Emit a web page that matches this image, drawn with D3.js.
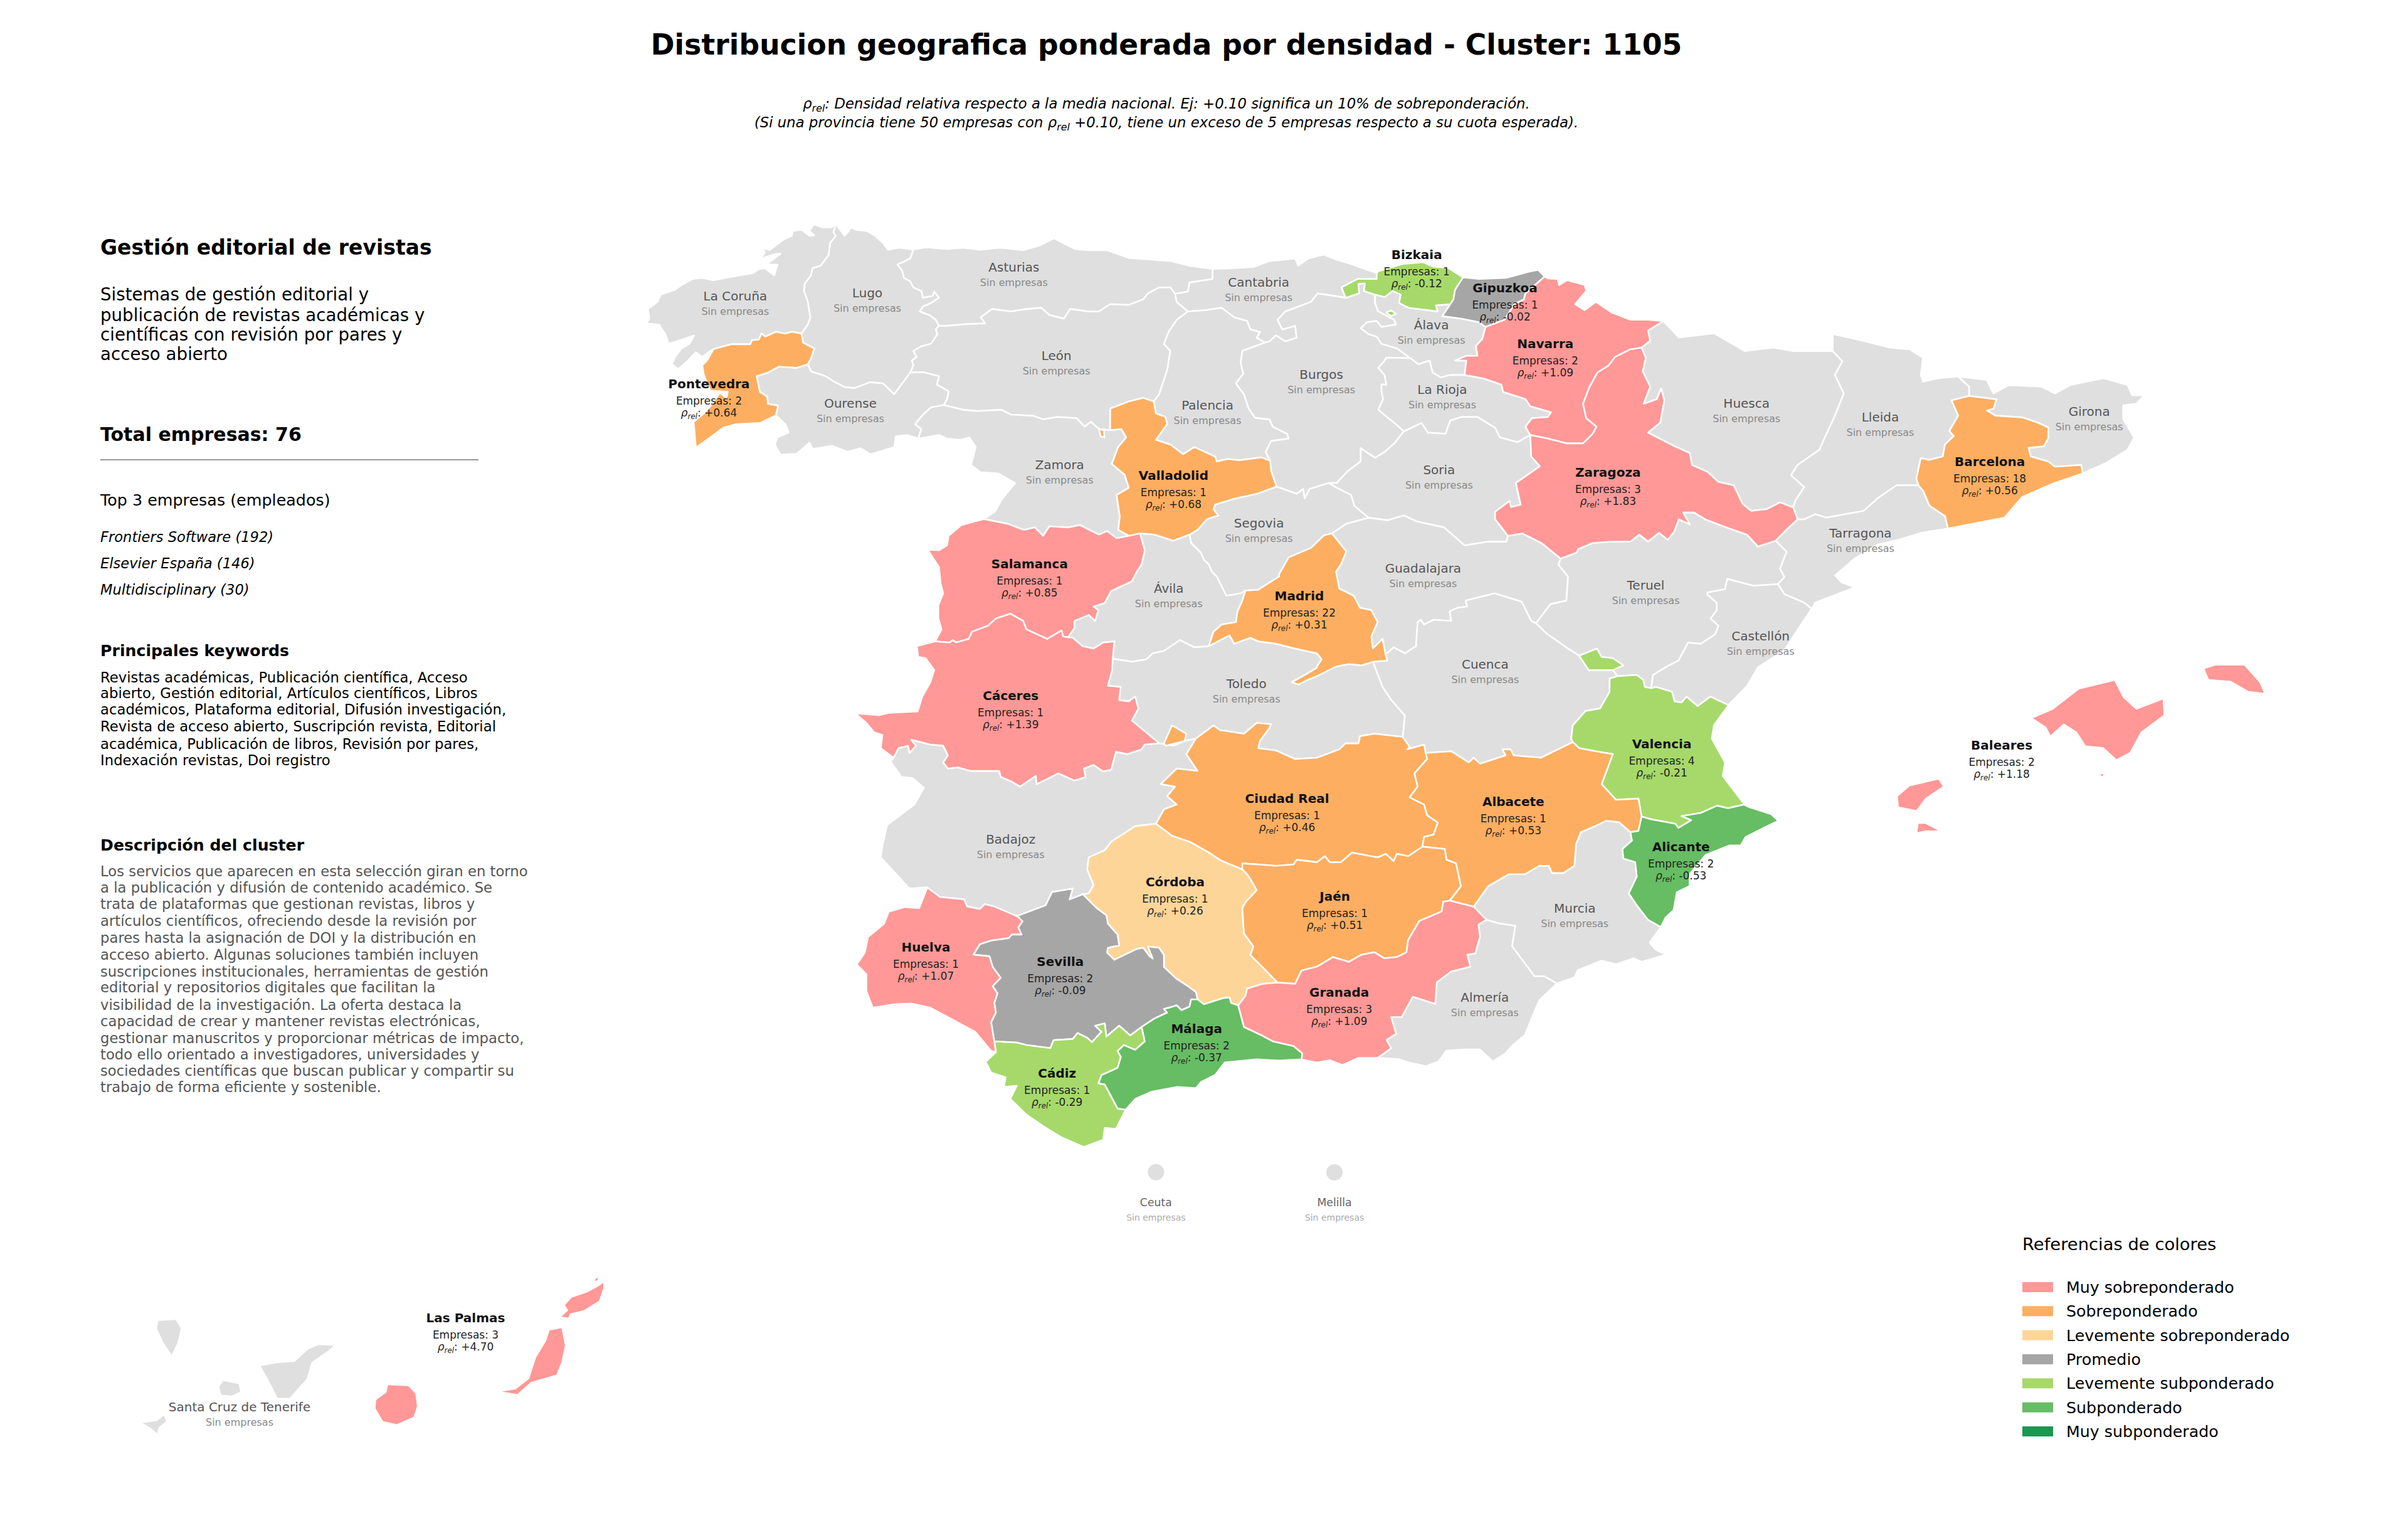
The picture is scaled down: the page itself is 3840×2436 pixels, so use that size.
<!DOCTYPE html>
<html><head><meta charset="utf-8">
<script src="https://cdn.jsdelivr.net/npm/d3@7"></script>
<style>html,body{margin:0;padding:0;background:#fff}svg{display:block}text{font-family:"DejaVu Sans",sans-serif}</style>
</head><body><svg id="c" width="3840" height="2436"></svg>
<script>
// ---------- chart values ----------
const provinceNames=["Pontevedra","Bizkaia","Gipuzkoa","Navarra","Valladolid","Zaragoza","Barcelona","Salamanca","Madrid","Cáceres","Valencia","Ciudad Real","Albacete","Alicante","Córdoba","Jaén","Huelva","Sevilla","Granada","Málaga","Cádiz","Baleares","Las Palmas"];
const empresasValues=[2,1,1,2,1,3,18,1,22,1,4,1,1,2,1,1,1,2,3,2,1,2,3];
const rhoValues=[0.64,-0.12,-0.02,1.09,0.68,1.83,0.56,0.85,0.31,1.39,-0.21,0.46,0.53,-0.53,0.26,0.51,1.07,-0.09,1.09,-0.37,-0.29,1.18,4.70];
const emptyProvinces=["La Coruña","Lugo","Asturias","León","Ourense","Zamora","Cantabria","Palencia","Burgos","Álava","La Rioja","Soria","Segovia","Guadalajara","Huesca","Lleida","Girona","Tarragona","Castellón","Teruel","Cuenca","Ávila","Toledo","Badajoz","Murcia","Almería","Santa Cruz de Tenerife","Ceuta","Melilla"];
const legendLabels=["Muy sobreponderado","Sobreponderado","Levemente sobreponderado","Promedio","Levemente subponderado","Subponderado","Muy subponderado"];
const legendColors=["#ff9896","#fdae61","#fed599","#a6a6a6","#a6d96a","#66bd63","#1a9850"];
const rhoThresholds=[-0.7,-0.3,-0.1,0.1,0.3,0.8];
const keywordLines=["Revistas académicas, Publicación científica, Acceso","abierto, Gestión editorial, Artículos científicos, Libros","académicos, Plataforma editorial, Difusión investigación,","Revista de acceso abierto, Suscripción revista, Editorial","académica, Publicación de libros, Revisión por pares,","Indexación revistas, Doi registro"];
const descriptionLines=["Los servicios que aparecen en esta selección giran en torno","a la publicación y difusión de contenido académico. Se","trata de plataformas que gestionan revistas, libros y","artículos científicos, ofreciendo desde la revisión por","pares hasta la asignación de DOI y la distribución en","acceso abierto. Algunas soluciones también incluyen","suscripciones institucionales, herramientas de gestión","editorial y repositorios digitales que facilitan la","visibilidad de la investigación. La oferta destaca la","capacidad de crear y mantener revistas electrónicas,","gestionar manuscritos y proporcionar métricas de impacto,","todo ello orientado a investigadores, universidades y","sociedades científicas que buscan publicar y compartir su","trabajo de forma eficiente y sostenible."];
const summaryLines=["Sistemas de gestión editorial y","publicación de revistas académicas y","científicas con revisión por pares y","acceso abierto"];
const topCompanies=["Frontiers Software (192)","Elsevier España (146)","Multidisciplinary (30)"];

// ---------- survey sheets: boundary traces are read on these map sheets ----------
const sheets={A:[1000,330,800,600,1568],B:[1800,330,800,600,1568],C:[2600,500,1100,850,1568],D:[1300,900,800,600,1568],E:[2100,900,800,600,1568],F:[1300,1400,800,600,1568],G:[2100,1300,800,600,1568],H:[150,2000,850,340,1012]};
const sheetScale=Object.fromEntries(Object.entries(sheets).map(([k,[x,y,w,h,dh]])=>[k,{x:d3.scaleLinear().domain([0,1568]).range([x,x+w]),y:d3.scaleLinear().domain([0,dh]).range([y,y+h])}]));
function trace(s){let f=null,out=[];s.trim().split(/\s+/).forEach(t=>{if(/^[A-H]$/.test(t))f=sheetScale[t];else{const [a,b]=t.split(",").map(Number);out.push([f.x(a),f.y(b)]);}});return out;}

// ---------- province border arcs ----------
const arcs={
lcCoast:"A 655,65 640,85 610,85 583,72 570,100 585,118 570,120 545,95 518,100 515,120 490,135 465,160 445,180 425,170 430,190 418,215 465,195 480,195 445,230 430,240 470,240 460,285 430,255 410,260 395,275 330,290 270,305 235,295 205,300 170,325 150,345 105,365 95,395 65,425 70,465 60,485 100,490 120,530 130,570 165,555 210,535 195,570 170,590 150,625 140,655 160,675 190,640 215,605 235,625 262,598",
lcPon:"A 270,592 325,572 385,572 390,555 412,552 420,527 432,540 465,520 495,527 515,520 545,527",
lcLug:"A 655,65 645,105 652,120 635,150 630,200 605,245 580,255 575,285 555,320 553,350 565,395 573,460 565,490 545,527",
lugCoast:"A 655,65 660,85 680,120 690,105 700,85 715,95 750,100 775,120 800,150 815,178 850,170 895,177",
lugAst:"A 895,177 885,215 845,240 860,265 865,295 885,310 895,335 920,350 925,378 955,370 960,352 975,378 950,400 925,415 915,435 945,450 965,470 975,495",
lugLeo:"A 975,495 965,510 970,530 950,570 920,580 895,600 905,625 890,640 895,660 885,690",
lugOur:"A 565,655 575,685 620,705 650,730 680,750 710,755 760,730 800,735 835,780 885,690",
ponLug:"A 545,527 550,565 585,590 575,630 565,655",
ponOur:"A 565,655 530,670 475,665 440,690 405,705 415,770 438,790 440,820 472,828 465,868",
ponSouth:"A 465,868 415,900 340,905 300,920 260,960 215,1003",
ponCoast:"A 215,1003 208,895 240,860 260,830 290,775 310,795 315,770 260,765 240,700 235,660 250,640 270,592",
ourSouth:"A 465,868 495,905 505,940 470,960 462,990 480,1032 530,1028 570,982 580,1008 640,995 690,1020 730,1005 760,1030 835,1000 840,955 875,950 910,965",
ourZam:"A 990,825 950,835 925,865 900,905 920,925 910,965",
ourLeo:"A 885,690 925,688 975,705 968,740 1005,768 1000,800 990,825",
zamWest:"A 910,965 975,950 1000,965 1040,970 1070,960 1090,1000 1075,1075 1105,1105 1160,1110 1213,1150 1170,1220 1150,1270 1115,1300",
zamSal:"A 1115,1300 1190,1320 1240,1345 1275,1335 1300,1370 1320,1330 1380,1335 1415,1325 1475,1365 1500,1350 1530,1380 1568,1370",
zamLeo:"A 990,825 1050,845 1095,850 1170,845 1200,865 1270,870 1300,885 1345,875 1405,880 1430,915 1450,895 1475,925 1510,930",
zamVal:"A 1510,930 1545,925 1560,960 1535,1000 1515,1070 1555,1115 1568,1170 1530,1200 1540,1290 1535,1345 1568,1370",
astCoast:"A 895,177 935,168 1000,175 1050,170 1105,178 1165,170 1240,180 1290,160 1335,130 1370,155 1400,175 1440,180 1500,180 B 0,212 60,218 130,225 190,245 262,258",
astLeo:"A 975,495 1000,495 1060,488 1120,485 1105,460 1140,425 1200,435 1250,425 1295,420 1320,450 1365,465 1385,425 1440,435 1475,435 1510,405 B 0,408 45,385 60,360 95,335 130,335 145,362",
astCan:"B 145,362 185,352 190,315 262,300 262,258",
leoCan:"B 145,362 150,395 185,435",
leoPal:"B 185,435 150,470 125,520 110,570 130,600 120,680 105,740 95,780 78,810",
leoVal:"A 1510,930 1510,840 B 0,810 45,795 78,810",
canCoast:"B 262,258 320,255 390,250 440,225 520,215 530,245 560,215 610,198 650,220 690,235 730,255 775,275",
canBiz:"B 775,275 775,300 715,300 665,335 678,378",
canBur:"B 678,378 590,360 570,395 490,435 465,470 480,510 520,495 525,545 490,560 460,535 440,560 425,565",
canPal:"B 185,435 240,430 290,420 330,460 370,475 380,510 410,520 400,545 425,565",
palBur:"B 425,565 355,600 350,650 358,695 335,735 360,780 375,840 395,878 440,885 450,915 495,945 500,965 445,975 428,1020 442,1058",
palVal:"B 78,810 85,860 115,875 120,905 85,970 130,990 170,1030 205,1000 270,1040 275,1060 310,1050 345,1055 415,1043 442,1058",
valBur:"B 442,1058 445,1100 462,1165",
valSeg:"B 462,1165 400,1195 330,1215 270,1240 265,1260 280,1285 245,1300 215,1345 190,1365",
valAvi:"B 190,1365 140,1390 80,1365 35,1360",
valSal:"B 35,1360 A 1568,1370",
salPor:"A 1115,1300 1045,1325 1005,1370 1000,1410 975,1430 940,1428 960,1470 975,1500 980,1568 D 400,120 385,170 385,225 395,270 375,320",
salCac:"D 375,320 420,325 430,315 440,325 480,310 490,280 540,255 565,225 610,205 650,235 660,270 725,310 770,275 775,300 790,303",
salAvi:"D 790,303 810,265 810,235 855,210 875,235 885,190 870,175 905,160 925,110 990,70 1005,30 1020,0 B 50,1430 35,1360",
bizCoast:"B 775,275 780,268 855,238 920,230 950,248 1000,255 1045,293",
bizGip:"B 1045,293 1020,345 1015,385 1005,405",
bizAla:"B 770,365 800,375 825,350 850,365 845,400 875,420 965,435 960,410 1005,405",
bizBur:"B 678,378 720,360 718,320 738,318 735,350 770,365",
gipCoast:"B 1045,293 1095,300 1180,295 1250,270 1280,262 1300,290",
gipNav:"B 1300,290 1240,360 1235,385 1205,405 1175,470 1115,500",
gipAla:"B 1115,500 1095,480 1040,465 980,455 1005,405",
navFr:"B 1300,290 1310,298 1340,300 1345,325 1370,305 1425,325 1430,350 1395,405 1425,430 1460,395 1510,440 C 0,18 40,18 75,22",
navHue:"C 75,22 40,50 45,80 25,100",
navZar:"C 25,100 0,105 B 1520,625 1500,660 1465,690 1440,750 1420,820 1430,880 1462,915 1450,945 1420,985 1370,985 1310,965 1255,950",
navRio:"B 1255,950 1240,915 1260,880 1310,875 1320,855 1255,830 1240,800 1170,770 1165,740 1110,715 1050,700",
navAla:"B 1050,700 1055,640 1020,640 1055,620 1090,620 1085,580 1105,550 1115,500",
alaBur:"B 770,365 770,400 780,435 830,470 835,490 790,500 775,475 745,480 725,505 750,530 775,540 790,570 840,590 880,630",
alaRio:"B 1050,700 1005,700 975,710 950,690 940,640 905,655 880,630",
rioBur:"B 880,630 805,628 800,640 780,670 800,700 805,740 790,740 790,770 795,800 780,845 835,905 860,935",
rioSor:"B 1255,950 1215,980 1160,960 1145,920 1090,875 1040,875 1005,890 990,945 935,940 915,900 860,935",
burSor:"B 860,935 830,985 800,1020 770,1045 725,1005 725,1060 685,1100 650,1150 625,1150",
burSeg:"B 462,1165 525,1195 545,1175 550,1215 565,1175 625,1150",
segSor:"B 625,1150 650,1170 695,1200 705,1245 750,1295",
segGua:"B 750,1295 680,1320 635,1360",
segMad:"B 635,1360 610,1368 570,1420 500,1460 470,1530 D 1450,50 1385,105 1345,108",
segAvi:"B 190,1365 195,1400 225,1440 235,1470 D 1230,0 1240,30 1255,50 1285,130 1330,120 1345,108",
aviMad:"D 1345,108 1335,150 1320,195 1315,240 1270,250 1245,280 1230,340",
aviTol:"D 1230,340 1185,345 1140,315 1090,360 1055,370 1035,395 990,405 930,392",
aviCac:"D 790,303 805,305 835,340 870,350 900,325 935,320 930,392",
cacPor:"D 375,320 318,340 322,385 345,390 372,440 360,490 335,550 320,612 230,618 200,628 125,620 160,660 185,700 210,710 205,765 245,805",
cacBad:"D 245,805 260,765 290,755 295,785 315,755 300,730 360,750 400,755 415,795 400,825 415,850 445,845 485,860 575,860 580,885 615,905 640,925 690,880 692,915 760,870 810,900 845,885 840,850 870,835 900,862 925,855 940,780 975,790 1020,770 1030,750 1075,745",
cacTol:"D 930,392 928,440 915,505 955,510 950,565 980,570 1000,550 1010,600 990,650 1075,745",
tolBad:"D 1075,745 1120,755 1155,735 1190,725",
tolCR:"D 1190,725 1205,710 1245,670 1265,690 1340,705 1380,660 1425,665 1420,680 1390,735 1385,765 1440,775 1500,810 1568,805 E 70,770 90,745 130,745 135,715 180,705 268,718",
tolCue:"E 175,405 205,510 230,560 275,630 268,718",
tolMad:"D 1230,340 1295,295 1310,330 1360,305 1385,320 1440,330 1500,350 1568,370 E 15,395 0,425 D 1568,430 1530,460 1490,490 1510,500 1540,480 1568,465 E 60,425 100,415 140,420 175,405",
madCue:"E 175,405 220,400 215,375",
madGua:"E 215,375 205,310 175,350 170,300 190,240 170,190 135,180 115,130 70,100 60,30 75,0 B 680,1435 635,1360",
guaCue:"E 215,375 240,345 275,370 310,340 315,240 325,230 335,250 365,230 420,235 415,195 440,180 470,175 465,150 510,135 555,120 640,155 670,235 685,245",
guaTer:"B 1350,1465 E 755,0 785,50 780,150 730,165 685,245",
guaZar:"B 1185,1370 1230,1360 1290,1400 1350,1465",
guaSor:"B 750,1295 810,1305 860,1285 900,1310 985,1335 1050,1410 1120,1395 1180,1395 1185,1370",
sorZar:"B 1185,1370 1145,1300 1145,1270 1190,1225 1195,1250 1225,1240 1210,1150 1285,1080 1258,1040 1255,950",
zarHue:"C 25,100 35,130 28,170 45,215 30,265 60,252 70,220 77,255 68,320 40,350 100,390 135,410 140,445 175,465 200,495 235,505 255,560 275,580 310,575 340,555 370,570",
zarLle:"C 370,570 380,605",
zarTar:"C 380,605 355,635 330,668",
zarTer:"C 330,668 290,685 265,650 210,625 170,605 145,585 120,585 135,620 110,605 100,640 85,665 65,645 40,670 20,650 0,670 B 1500,1395 1450,1400 1405,1425 1400,1440 1350,1465",
hueFr:"C 75,22 110,70 190,58 260,110 325,100 370,110 460,110",
hueLle:"C 460,110 482,140 465,180 485,235 465,300 440,370 430,400 380,445 365,475 395,510 375,550 370,570",
lleTop:"C 460,110 460,60 530,80 590,100 635,105 665,130 660,180 665,200 700,190 745,185",
lleGir:"C 745,185 770,215 770,242",
lleBar:"C 770,242 730,255 745,300 725,345 735,360 715,385 710,420 680,430 660,425 650,485 655,505",
lleTar:"C 655,505 605,505 565,540 530,580 445,600 420,590 395,605 380,605",
girCoast:"C 745,185 810,195 825,235 860,210 935,215 965,235 1000,210 1075,190 1130,210 1140,240 1168,240 1150,265 1120,270 1120,310 1145,365 1130,400 1080,440 1028,470",
girBar:"C 770,242 832,252 825,280 810,285 830,300 890,305 925,320 950,335 950,365 940,390 905,395 910,420 950,435 965,450 1025,445 1028,470",
barCoast:"C 1028,470 960,500 890,540 850,600 722,632",
barTar:"C 722,632 715,595 680,565 665,520 655,505",
tarCoast:"C 722,632 660,645 610,665 560,680 510,720 465,770 480,790 510,805 420,850 412,868",
tarCas:"C 335,795 350,825 395,850 412,868",
tarTer:"C 330,668 355,700 340,750 350,775 335,795",
terCas:"C 335,795 280,800 220,780 215,810 175,820 E 1220,125 1250,160 1250,190 1230,225 1255,255 1245,290 1200,330 1160,325 1130,400 1100,420 1050,460 1045,515",
terCue:"E 685,245 720,290 785,350 820,380",
ademCue:"E 820,380 850,440 925,440",
ademTer:"E 820,380 875,350 890,385 925,390 958,420 925,440",
cueTerB:"E 925,440 940,465",
terVal:"E 940,465 1000,460 1020,480 1025,510 1045,515",
cueVal:"E 940,465 915,475 915,530 885,600 840,610 800,670 795,725 800,740",
cueAlb:"E 340,785 420,778 475,825 490,805 510,830 590,795 580,770 605,770 615,795 700,805 800,740",
cueCR:"E 268,718 290,760 282,770 335,750 340,785",
casVal:"E 1045,515 1060,510 1110,530 1118,570 1140,575 1155,550 1190,590 1230,550 1285,585",
casCoast:"C 412,868 385,920 350,990 290,1040 265,1095 225,1148",
valCoast:"C 225,1148 190,1210 185,1250 215,1320 210,1360 260,1445",
valAlb:"E 800,740 820,765 880,780 925,790 890,915 935,980 1005,975 1015,1050",
valAli:"E 1350,1010 1335,1000 1285,1015 1250,1005 1200,1035 1140,1048 1170,1065 1130,1097 1120,1080 1040,1060 1015,1050",
albCR:"E 340,785 345,810 305,870 315,925 290,970 335,1000 345,1045 378,1075 365,1125 335,1135 330,1175",
albJae:"G 330,130 400,140 405,185 435,200 450,295 415,355",
albGra:"G 415,355 490,380",
albMur:"E 980,1115 G 945,28 905,22 860,50 825,70 810,120 805,210 770,240 735,240 725,210 695,210 650,245 600,245 535,295 490,380",
albAli:"E 1015,1050 1005,1110 980,1115",
aliCoast:"E 1350,1010 1420,1040 1442,1068 1400,1095 1340,1135 1325,1170 1290,1170 1215,1210 1165,1290 1165,1340 1125,1365 1115,1440 1090,1470 1075,1510",
aliMur:"E 1075,1510 1035,1480 1000,1420 975,1370 1000,1300 995,1240 958,1225 955,1185 985,1150 980,1115",
murCoast:"G 750,700 805,675 815,645 890,605 935,620 990,595 1015,610 1090,580 1060,560 1040,530 1075,465",
murAlm:"G 530,435 570,450 620,460 610,545 680,670 710,670 750,700",
murGra:"G 490,380 530,435",
almCoast:"G 750,700 695,770 670,850 650,915 610,960 590,990 550,1025 510,975 460,975 405,980 380,1025 340,1045 290,1030 255,1015 190,1010",
almGra:"G 530,435 505,455 510,505 495,575 470,580 480,630 420,650 375,695 370,785 335,770 300,755 265,840 232,840 248,910 218,935 232,970 190,1010",
graCoast:"G 190,1010 130,1010 80,1040 40,1020 0,1030 F 1520,755",
graJae:"G 415,355 395,360 390,400 320,440 285,520 280,570 250,590 210,595 180,570 140,580 100,610 50,590 0,630 F 1520,385 1500,440 1445,435",
graCor:"F 1445,435 1400,440 1350,460 1345,490 1322,530",
graMal:"F 1322,530 1340,620 1395,655 1430,680 1495,700 1522,730 1520,755",
jaeCR:"G 330,130 285,170 250,160 240,190 215,160 190,175 110,155 75,195 40,195 25,170 0,195 D 1505,1230 1495,1250 1440,1255 1335,1245 1335,1270",
jaeCor:"D 1335,1270 1350,1290 1360,1310 F 1380,50 1345,100 1335,125 1340,230 1370,285 1360,320 1405,380 1445,435",
crBad:"D 1190,725 1160,790 1195,860 1130,850 1080,915 1125,925 1100,965 1130,1000 1090,1020 1065,1080",
crCor:"D 1065,1080 1115,1130 1170,1155 1230,1200 1270,1235 1335,1270",
cdbBad:"D 1065,1080 1000,1090 960,1125 925,1155 905,1190 855,1220 850,1270 870,1335 855,1370 835,1375",
cdbSev:"F 835,65 880,125 910,155 915,190 945,235 950,280 915,290 912,310 935,340 1005,295 1025,290 1045,325 1055,335 1040,285 1075,290 1090,320 1090,370 1130,420 1165,450 1190,475 1195,505",
cdbMal:"F 1195,505 1215,525 1275,500 1295,497 1300,520 1322,530",
sevBad:"D 835,1375 795,1395 805,1350 740,1365 720,1420 630,1465",
sevHue:"F 630,155 648,180 635,205 645,235 615,235 605,250 550,260 515,275 495,318 545,325 555,370 580,415 555,450 570,480 560,520 565,560 550,600 560,680",
sevCad:"F 560,680 630,685 660,695 735,708 745,675 805,670 820,645 850,665 865,683 895,640 875,615 905,605 910,660 950,615 985,655 1020,620",
sevMal:"F 1020,620 1060,585 1100,560 1090,545 1105,540 1130,530 1145,550 1170,535 1175,505 1195,505",
hueBad:"D 630,1465 560,1425 530,1415 515,1435 475,1425 465,1395 390,1385 350,1345",
hueCoast:"F 350,40 325,125 280,120 230,140 215,190 165,245 155,310 130,360 160,400 160,470 180,540 250,525 300,522 360,540 430,590 500,640 550,720 565,725",
hueCad:"F 560,680 565,725",
badPor:"D 350,1345 295,1350 260,1300 205,1220 210,1170 225,1085 270,1040 310,1000 340,930 305,890 270,885 235,820 245,805",
cadCoast:"F 970,965 940,1045 905,1040 900,1090 840,1120 770,1080 715,1035 660,985 610,920 630,865 590,870 595,830 550,810 533,765 565,725",
cadMal:"F 970,965 945,960 905,860 885,855 895,820 945,790 955,745 945,720 965,695 1000,715 1030,680 1020,620",
malCoast:"F 1520,755 1450,760 1380,755 1280,768 1250,820 1205,850 1190,875 1130,870 1050,890 1000,920 970,965"
};
const provinceArcs={
"La Coruña":["lcCoast","lcPon","lcLug"],"Lugo":["lugCoast","lugAst","lugLeo","lugOur","ponLug","lcLug"],"Pontevedra":["lcPon","ponLug","ponOur","ponSouth","ponCoast"],"Ourense":["ponOur","ourSouth","ourZam","ourLeo","lugOur"],"Zamora":["zamLeo","zamVal","zamSal","zamWest","ourZam"],
"Asturias":["astCoast","astCan","astLeo","lugAst"],"León":["astLeo","leoCan","leoPal","leoVal","zamLeo","ourLeo","lugLeo"],"Cantabria":["canCoast","canBiz","canBur","canPal","leoCan","astCan"],"Palencia":["canPal","palBur","palVal","leoPal"],
"Burgos":["canBur","bizBur","alaBur","rioBur","burSor","burSeg","valBur","palBur"],"Bizkaia":["bizCoast","bizGip","bizAla","bizBur","canBiz"],"Gipuzkoa":["gipCoast","gipNav","gipAla","bizGip"],"Navarra":["navFr","navHue","navZar","navRio","navAla","gipNav"],
"Álava":["bizAla","gipAla","navAla","alaRio","alaBur"],"La Rioja":["alaRio","navRio","rioSor","rioBur"],"Soria":["rioSor","burSor","segSor","guaSor","sorZar"],"Segovia":["valSeg","burSeg","segSor","segGua","segMad","segAvi"],
"Valladolid":["leoVal","palVal","valBur","valSeg","valAvi","valSal","zamVal"],"Salamanca":["zamSal","valSal","salAvi","salCac","salPor"],"Ávila":["valAvi","segAvi","aviMad","aviTol","aviCac","salAvi"],"Madrid":["segMad","aviMad","tolMad","madCue","madGua"],
"Guadalajara":["segGua","guaSor","guaZar","guaTer","guaCue","madGua"],"Zaragoza":["navZar","zarHue","zarLle","zarTar","zarTer","guaZar","sorZar"],"Huesca":["navHue","hueFr","hueLle","zarHue"],"Lleida":["hueLle","zarLle","lleTar","lleBar","lleGir","lleTop"],
"Girona":["girCoast","girBar","lleGir"],"Barcelona":["girBar","barCoast","barTar","lleBar"],"Tarragona":["lleTar","zarTar","tarTer","tarCas","tarCoast","barTar"],"Teruel":["guaTer","zarTer","tarTer","terCas","terVal","cueTerB","ademTer","terCue"],"Castellón":["tarCas","casCoast","casVal","terCas"],
"Cuenca":["guaCue","terCue","ademCue","cueTerB","cueVal","cueAlb","cueCR","tolCue","madCue"],"Toledo":["aviTol","cacTol","tolBad","tolCR","tolCue","tolMad"],"Cáceres":["salCac","aviCac","cacTol","cacBad","cacPor"],"Badajoz":["cacBad","tolBad","crBad","cdbBad","sevBad","hueBad","badPor"],
"Ciudad Real":["tolCR","cueCR","albCR","jaeCR","crCor","crBad"],"Albacete":["cueAlb","valAlb","albAli","albMur","albGra","albJae","albCR"],"Valencia":["terVal","casVal","valCoast","valAli","valAlb","cueVal"],"Alicante":["valAli","aliCoast","aliMur","albAli"],
"Murcia":["albMur","aliMur","murCoast","murAlm","murGra"],"Almería":["murAlm","almCoast","almGra"],"Granada":["albGra","murGra","almGra","graCoast","graMal","graCor","graJae"],"Jaén":["albJae","jaeCR","jaeCor","graJae"],
"Córdoba":["crCor","jaeCor","graCor","cdbMal","cdbSev","cdbBad"],"Sevilla":["sevBad","sevHue","sevCad","sevMal","cdbSev"],"Huelva":["hueBad","hueCoast","hueCad","sevHue"],"Cádiz":["sevCad","cadMal","cadCoast","hueCad"],"Málaga":["sevMal","cdbMal","graMal","malCoast","cadMal"]
};
// detached parts (islands and enclaves)
const extraRings={
"Valencia":["E 820,380 875,350 890,385 925,390 958,420 925,440 850,440"],
"Bizkaia":["B 805,440 820,430 835,445 820,455"],
"Valladolid":["A 1475,925 1490,930 1492,960 1480,955"],
"Ciudad Real":["D 1115,670 1160,705 1155,735 1095,755 1090,745"],
"Almería":["F 1040,1025 1056,1036 1045,1036","G 72,1335 80,1345 75,1352"],
"Baleares":["C 915,1190 960,1165 1020,1105 1100,1080 1120,1130 1150,1165 1210,1135 1212,1180 1160,1230 1135,1290 1105,1310 1075,1275 1035,1270 1015,1230 985,1205 955,1240 945,1215","C 1305,1045 1330,1035 1395,1035 1430,1085 1440,1115 1405,1110 1365,1080 1315,1075","C 610,1450 608,1420 635,1390 700,1370 710,1390 670,1425 650,1460","C 655,1500 670,1500 700,1520 670,1520 652,1525","C 1068,1355 1076,1355 1072,1361"],
"Santa Cruz de Tenerife":["H 190,315 240,310 255,350 245,420 228,475 205,420 185,350","H 490,530 540,515 590,510 630,450 660,430 705,432 690,455 640,510 625,590 575,680 540,680 510,585","H 380,600 425,615 430,650 405,670 375,665 368,630","H 142,800 185,790 205,765 212,790 190,820 185,848 165,820"],
"Las Palmas":["H 865,620 925,625 945,660 950,720 940,770 890,805 850,790 828,730 830,690 860,655","H 1340,360 1375,350 1385,430 1375,510 1360,570 1285,605 1245,662 1200,650 1240,640 1280,590 1300,490 1330,410","H 1375,295 1395,265 1385,240 1405,205 1450,180 1480,155 1498,135 1498,160 1485,220 1440,265 1400,280 1395,300","H 1472,125 1480,108 1482,122"],
};
const pointTerritories={"Ceuta":"F 1065,1225","Melilla":"G 55,1487"};
// label anchors on the same sheets
const labelAnchors={"La Coruña":"A 338,370","Lugo":"A 751,358","Asturias":"A 1209,250","León":"A 1342,620","Ourense":"A 698,818","Zamora":"A 1352,1073","Pontevedra":"A 256,737","Salamanca":"A 1258,1488","Cantabria":"B 406,313","Palencia":"B 246,825","Burgos":"B 602,697","Álava":"B 946,490","La Rioja":"B 980,761","Soria":"B 970,1095","Segovia":"B 407,1318","Guadalajara":"B 920,1505","Bizkaia":"B 900,198","Gipuzkoa":"B 1176,337","Navarra":"B 1302,571","Valladolid":"B 140,1118","Zaragoza":"B 1498,1106","Huesca":"C 264,264","Lleida":"C 568,304","Girona":"C 1043,287","Barcelona":"C 817,435","Tarragona":"C 523,646","Castellón":"C 296,948","Teruel":"E 1028,86","Baleares":"C 844,1269","Cuenca":"E 526,415","Valencia":"E 1078,748","Albacete":"E 614,987","Alicante":"E 1138,1175","Ávila":"D 1105,98","Toledo":"D 1348,496","Cáceres":"D 611,546","Badajoz":"D 611,1144","Córdoba":"D 1125,1323","Madrid":"D 1513,131","Ciudad Real":"D 1475,975","Huelva":"F 346,288","Sevilla":"F 766,348","Málaga":"F 1192,627","Cádiz":"F 756,812","Jaén":"G 56,338","Granada":"G 70,737","Murcia":"G 806,388","Almería":"G 525,759","Ceuta":"F 1065,1352","Melilla":"G 55,1612","Santa Cruz de Tenerife":"H 428,722","Las Palmas":"H 1093,300"};

// ---------- assembling the map ----------
const dist=(a,b)=>Math.hypot(a[0]-b[0],a[1]-b[1]);
function stitch(keys){
  const parts=keys.map(k=>trace(arcs[k]));
  let ring=parts[0].slice();
  const nx=parts[1],ends=[nx[0],nx[nx.length-1]];
  if(Math.min(...ends.map(e=>dist(ring[0],e)))<Math.min(...ends.map(e=>dist(ring[ring.length-1],e))))ring.reverse();
  parts.slice(1).forEach(p=>{const e=ring[ring.length-1];const q=dist(e,p[0])<=dist(e,p[p.length-1])?p:p.slice().reverse();ring=ring.concat(q);});
  ring.push(ring[0]);return ring;
}
const closeRing=s=>{const r=trace(s);r.push(r[0]);return r;};
const rhoBy=new Map(provinceNames.map((n,i)=>[n,rhoValues[i]]));
const empBy=new Map(provinceNames.map((n,i)=>[n,empresasValues[i]]));
const colorScale=d3.scaleThreshold().domain(rhoThresholds).range(legendColors.slice().reverse());
const emptyColor="#dfdfdf";
const allNames=[...emptyProvinces,...provinceNames];
const features=allNames.filter(n=>provinceArcs[n]||extraRings[n]).map(n=>{
  const polys=[];
  if(provinceArcs[n])polys.push([stitch(provinceArcs[n])]);
  (extraRings[n]||[]).forEach(s=>polys.push([closeRing(s)]));
  return {type:"Feature",properties:{name:n},geometry:{type:"MultiPolygon",coordinates:polys}};
});
const svg=d3.select("#c");
svg.append("rect").attr("width",3840).attr("height",2436).attr("fill","#fff");
const path=d3.geoPath(d3.geoIdentity());
const fillOf=n=>rhoBy.has(n)?colorScale(rhoBy.get(n)):emptyColor;
svg.append("g").selectAll("path").data(features).join("path")
  .attr("d",path).attr("fill",d=>fillOf(d.properties.name))
  .attr("stroke",d=>(d.properties.name==="Baleares"||d.properties.name==="Las Palmas"||d.properties.name==="Santa Cruz de Tenerife")?"none":"#fff")
  .attr("stroke-width",2.6).attr("stroke-linejoin","round");
svg.append("g").selectAll("circle").data(Object.entries(pointTerritories)).join("circle")
  .attr("cx",d=>trace(d[1])[0][0]).attr("cy",d=>trace(d[1])[0][1]).attr("r",13).attr("fill",emptyColor);

// ---------- text helpers ----------
function T(x,y,s,size,o={}){return svg.append("text").attr("x",x).attr("y",y).attr("font-size",size).attr("text-anchor",o.anchor||"start").attr("font-weight",o.bold?"bold":"normal").attr("font-style",o.italic?"italic":"normal").attr("fill",o.fill||"#000").text(s);}
function rhoSpans(t,after,size,dySub){
  t.append("tspan").attr("font-style","italic").text("ρ");
  t.append("tspan").attr("font-style","italic").attr("font-size",size*0.7).attr("dy",dySub).text("rel");
  t.append("tspan").attr("dy",-dySub).text(after);
}
const fmt=v=>d3.format("+.2f")(v).replace("−","-");
// province labels
allNames.forEach(n=>{
  const a=labelAnchors[n];if(!a)return;const [x,y]=trace(a)[0];
  if(rhoBy.has(n)){
    T(x,y+7,n,20,{anchor:"middle",bold:true,fill:"#111"});
    T(x,y+33,`Empresas: ${empBy.get(n)}`,17,{anchor:"middle",fill:"#222"});
    const t=svg.append("text").attr("x",x).attr("y",y+52).attr("font-size",17).attr("text-anchor","middle").attr("fill","#222");
    rhoSpans(t,`: ${fmt(rhoBy.get(n))}`,17,4);
  }else{
    const small=n==="Ceuta"||n==="Melilla";
    T(x,y+(small?6:7),n,small?17.3:20,{anchor:"middle",fill:small?"#666":"#555"});
    T(x,y+(small?29:30),"Sin empresas",small?14:16,{anchor:"middle",fill:small?"#aaa":"#888"});
  }
});

// ---------- title ----------
T(1860,87,"Distribucion geografica ponderada por densidad - Cluster: 1105",45.7,{anchor:"middle",bold:true});
let sub1=svg.append("text").attr("x",1860).attr("y",173).attr("font-size",22.8).attr("text-anchor","middle").attr("font-style","italic");
rhoSpans(sub1,": Densidad relativa respecto a la media nacional. Ej: +0.10 significa un 10% de sobreponderación.",22.8,5);
let sub2=svg.append("text").attr("x",1860).attr("y",203).attr("font-size",22.8).attr("text-anchor","middle").attr("font-style","italic");
sub2.append("tspan").text("(Si una provincia tiene 50 empresas con ");
rhoSpans(sub2," +0.10, tiene un exceso de 5 empresas respecto a su cuota esperada).",22.8,5);

// ---------- left panel ----------
T(160,406,"Gestión editorial de revistas",33,{bold:true});
[479,512,543,574].forEach((y,i)=>T(160,y,summaryLines[i],27.7));
T(160,703,"Total empresas: 76",30,{bold:true});
svg.append("line").attr("x1",160).attr("x2",763).attr("y1",733).attr("y2",733).attr("stroke","#999").attr("stroke-width",2);
T(160,806,"Top 3 empresas (empleados)",25.4);
[864,906,948].forEach((y,i)=>T(160,y,topCompanies[i],22.6,{italic:true}));
T(160,1046,"Principales keywords",25.2,{bold:true});
[1088,1113,1139,1166,1194,1220].forEach((y,i)=>T(160,y,keywordLines[i],22.75));
T(160,1356,"Descripción del cluster",25.2,{bold:true});
[1397,1423,1449,1476,1503,1530,1557,1582,1610,1636,1663,1689,1715,1741].forEach((y,i)=>T(160,y,descriptionLines[i],22.75,{fill:"#555"}));

// ---------- legend ----------
T(3225,1993,"Referencias de colores",27.4);
const rowY=d3.scalePoint().domain(legendLabels).range([2052,2282]);
legendLabels.forEach((l,i)=>{
  svg.append("rect").attr("x",3225).attr("y",rowY(l)-8).attr("width",49).attr("height",16).attr("fill",legendColors[i]);
  T(3295,rowY(l)+9,l,25.3);
});
</script></body></html>
